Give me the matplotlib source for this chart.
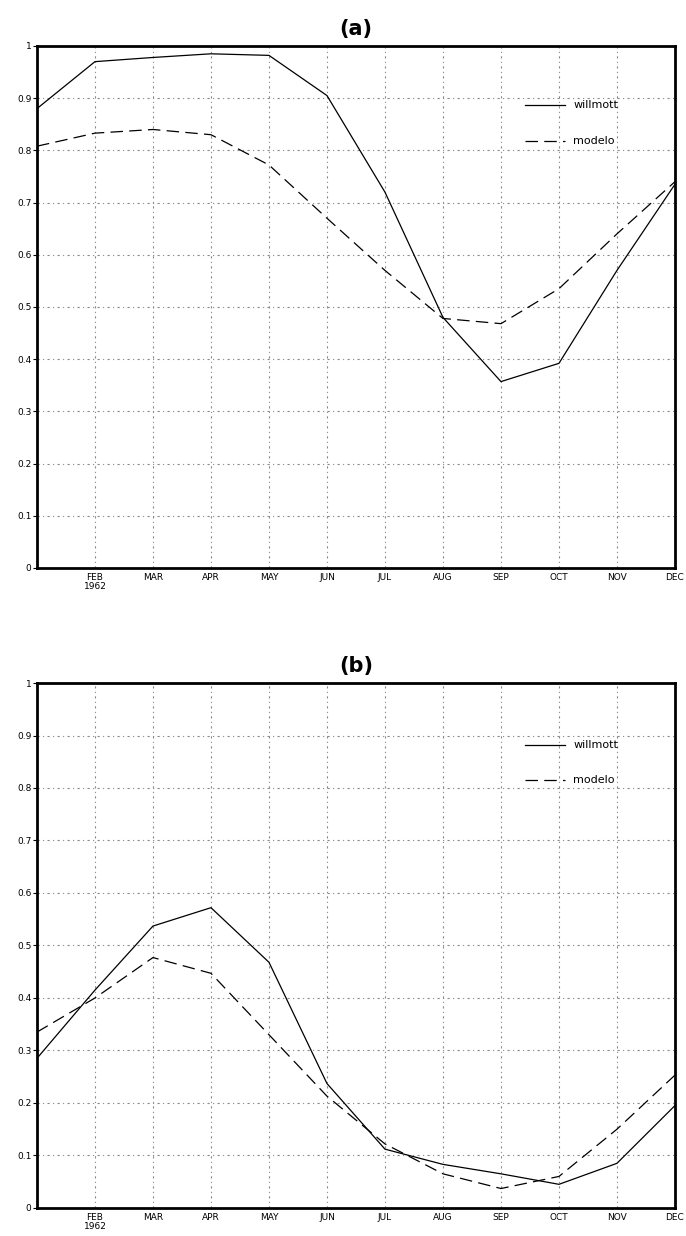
import matplotlib.pyplot as plt

months = ['JAN', 'FEB', 'MAR', 'APR', 'MAY', 'JUN', 'JUL', 'AUG', 'SEP', 'OCT', 'NOV', 'DEC']
tick_labels = ['FEB\n1962', 'MAR', 'APR', 'MAY', 'JUN', 'JUL', 'AUG', 'SEP', 'OCT', 'NOV', 'DEC']
y_ticks = [0, 0.1, 0.2, 0.3, 0.4, 0.5, 0.6, 0.7, 0.8, 0.9, 1]
y_labels = ['0', '0.1', '0.2', '0.3', '0.4', '0.5', '0.6', '0.7', '0.8', '0.9', '1']

willmott_a = [0.88, 0.97, 0.978, 0.985, 0.982, 0.905, 0.72, 0.48, 0.357, 0.392, 0.57, 0.735]
modelo_a = [0.808, 0.833, 0.84, 0.83, 0.772, 0.67, 0.57, 0.478, 0.468, 0.535, 0.64, 0.74]
willmott_b = [0.285, 0.415, 0.537, 0.572, 0.468, 0.237, 0.112, 0.083, 0.065, 0.045, 0.085, 0.195]
modelo_b = [0.335, 0.40, 0.477, 0.447, 0.33, 0.213, 0.122, 0.065, 0.037, 0.06, 0.15, 0.253]

x = list(range(len(months)))

fig = plt.figure(figsize=(6.86, 12.36), dpi=100)
ax_a = fig.add_axes([0.0539, 0.5405, 0.930, 0.4223])
ax_b = fig.add_axes([0.0539, 0.0227, 0.930, 0.4247])

panels = [(ax_a, willmott_a, modelo_a, '(a)', 0.887, 0.818),
          (ax_b, willmott_b, modelo_b, '(b)', 0.882, 0.815)]

for ax, w, m, title, ly1, ly2 in panels:
    ax.plot(x, w, color='black', linewidth=0.9)
    ax.plot(x, m, color='black', linewidth=0.9, dashes=(10, 5))
    ax.set_xlim(0, 11)
    ax.set_ylim(0, 1)
    ax.set_xticks(x[1:])
    ax.set_xticklabels(tick_labels, fontsize=6.5, linespacing=0.9)
    ax.set_yticks(y_ticks)
    ax.set_yticklabels(y_labels, fontsize=6.5)
    ax.tick_params(axis='x', length=0, pad=4)
    ax.tick_params(axis='y', length=3, width=0.8, pad=1)
    ax.grid(True, color='#8a8a8a', linestyle=(0, (2, 3, 1, 3)), linewidth=0.8)
    for s in ax.spines.values():
        s.set_linewidth(2)
    ax.set_title(title, fontsize=15, fontweight='bold', pad=8)
    # legend drawn inside the plot
    ax.plot([8.41, 9.1], [ly1, ly1], color='black', linewidth=0.9)
    ax.plot([8.41, 9.1], [ly2, ly2], color='black', linewidth=0.9, dashes=(10, 5))
    ax.text(9.25, ly1, 'willmott', fontsize=8, va='center')
    ax.text(9.25, ly2, 'modelo', fontsize=8, va='center')

plt.savefig('out.png', dpi=100)
